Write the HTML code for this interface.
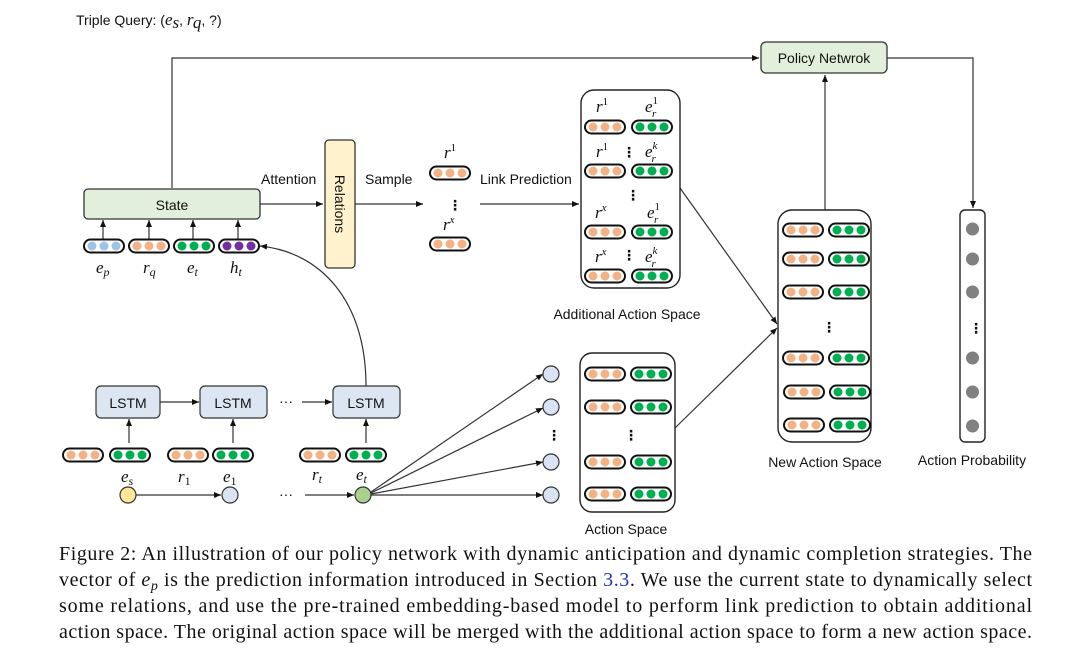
<!DOCTYPE html>
<html><head><meta charset="utf-8"><style>
html,body{margin:0;padding:0;background:#fff;}
svg{display:block;}
.s{font-family:"Liberation Sans","DejaVu Sans",sans-serif;font-size:14px;fill:#111;}
.m{font-family:"Liberation Serif",serif;font-style:italic;font-size:17px;fill:#111;}
.n{font-style:normal;}
.c{font-family:"Liberation Serif",serif;font-size:20px;fill:#111;}
</style></head><body>
<svg width="1080" height="653" viewBox="0 0 1080 653" xmlns="http://www.w3.org/2000/svg">
<defs>
<marker id="a" markerWidth="8" markerHeight="8" refX="7" refY="3" orient="auto" markerUnits="userSpaceOnUse"><path d="M0,0 L7,3 L0,6 z" fill="#111"/></marker>
<g id="vo"><rect x="0" y="-6.5" width="40" height="13" rx="6.5" fill="#fff" stroke="#111" stroke-width="2"/><circle cx="8" cy="0" r="4.5" fill="#f4b183"/><circle cx="20" cy="0" r="4.5" fill="#f4b183"/><circle cx="32" cy="0" r="4.5" fill="#f4b183"/></g>
<g id="vg"><rect x="0" y="-6.5" width="40" height="13" rx="6.5" fill="#fff" stroke="#111" stroke-width="2"/><circle cx="8" cy="0" r="4.5" fill="#00b050"/><circle cx="20" cy="0" r="4.5" fill="#00b050"/><circle cx="32" cy="0" r="4.5" fill="#00b050"/></g>
<g id="vb"><rect x="0" y="-6.5" width="40" height="13" rx="6.5" fill="#fff" stroke="#111" stroke-width="2"/><circle cx="8" cy="0" r="4.5" fill="#9dc3e6"/><circle cx="20" cy="0" r="4.5" fill="#9dc3e6"/><circle cx="32" cy="0" r="4.5" fill="#9dc3e6"/></g>
<g id="vp"><rect x="0" y="-6.5" width="40" height="13" rx="6.5" fill="#fff" stroke="#111" stroke-width="2"/><circle cx="8" cy="0" r="4.5" fill="#7030a0"/><circle cx="20" cy="0" r="4.5" fill="#7030a0"/><circle cx="32" cy="0" r="4.5" fill="#7030a0"/></g>
</defs>

<text x="76" y="25" class="s" font-size="15">Triple Query: (<tspan class="m">e</tspan><tspan class="m" font-size="11" dy="3">s</tspan><tspan dy="-3">, </tspan><tspan class="m">r</tspan><tspan class="m" font-size="11" dy="3">q</tspan><tspan dy="-3">, ?)</tspan></text>

<g stroke="#333" stroke-width="1.2" fill="none">
<polyline points="172,188 172,58 759,58" marker-end="url(#a)"/>
<polyline points="887,58 973,58 973,208" marker-end="url(#a)"/>
<line x1="825" y1="210" x2="825" y2="75" marker-end="url(#a)"/>
<line x1="260" y1="204" x2="323" y2="204" marker-end="url(#a)"/>
<line x1="355" y1="204" x2="423" y2="204" marker-end="url(#a)"/>
<line x1="480" y1="204" x2="579" y2="204" marker-end="url(#a)"/>
<line x1="103" y1="240" x2="103" y2="220" marker-end="url(#a)"/>
<line x1="149" y1="240" x2="149" y2="220" marker-end="url(#a)"/>
<line x1="193" y1="240" x2="193" y2="220" marker-end="url(#a)"/>
<line x1="238" y1="240" x2="238" y2="220" marker-end="url(#a)"/>
<line x1="680" y1="188" x2="777" y2="324" marker-end="url(#a)"/>
<line x1="675" y1="428" x2="777" y2="328" marker-end="url(#a)"/>
<path d="M366,386 C366,300 320,252 260,246" marker-end="url(#a)"/>
<line x1="160" y1="402" x2="199" y2="402" marker-end="url(#a)"/>
<line x1="302" y1="402" x2="332" y2="402" marker-end="url(#a)"/>
<line x1="129" y1="443" x2="129" y2="419" marker-end="url(#a)"/>
<line x1="233" y1="443" x2="233" y2="419" marker-end="url(#a)"/>
<line x1="366" y1="443" x2="366" y2="419" marker-end="url(#a)"/>
<line x1="136" y1="495" x2="221" y2="495" marker-end="url(#a)"/>
<line x1="305" y1="495" x2="354" y2="495" marker-end="url(#a)"/>
<line x1="371" y1="492" x2="543" y2="374" marker-end="url(#a)"/>
<line x1="371" y1="493" x2="543" y2="408" marker-end="url(#a)"/>
<line x1="371" y1="494" x2="543" y2="462" marker-end="url(#a)"/>
<line x1="371" y1="495" x2="543" y2="495" marker-end="url(#a)"/>
</g>

<rect x="761" y="42" width="126" height="31" rx="5" fill="#e2efda" stroke="#333" stroke-width="1.3"/>
<text x="824" y="63" class="s" font-size="15" text-anchor="middle">Policy Netwrok</text>

<rect x="84" y="189" width="176" height="30" rx="4" fill="#e2efda" stroke="#333" stroke-width="1.3"/>
<text x="172" y="210" class="s" font-size="15" text-anchor="middle">State</text>
<use href="#vb" x="84" y="246"/><use href="#vo" x="129" y="246"/><use href="#vg" x="174" y="246"/><use href="#vp" x="219" y="246"/>
<text x="96" y="273" class="m">e<tspan font-size="12" dy="3">p</tspan></text>
<text x="143" y="273" class="m">r<tspan font-size="12" dy="3">q</tspan></text>
<text x="187" y="273" class="m">e<tspan font-size="12" dy="3">t</tspan></text>
<text x="230" y="273" class="m">h<tspan font-size="12" dy="3">t</tspan></text>

<text x="261" y="184" class="s">Attention</text>
<rect x="325" y="140" width="30" height="128" rx="4" fill="#fff2cc" stroke="#333" stroke-width="1.3"/>
<text transform="translate(335,204) rotate(90)" class="s" font-size="15" text-anchor="middle">Relations</text>
<text x="365" y="184" class="s">Sample</text>
<text x="444" y="158" class="m">r<tspan class="n" font-size="11" dy="-7">1</tspan></text>
<use href="#vo" x="430" y="173"/>
<text x="448" y="210" class="s" font-weight="bold">⋮</text>
<text x="443" y="230" class="m">r<tspan font-size="11" dy="-7">x</tspan></text>
<use href="#vo" x="430" y="244"/>
<text x="480" y="184" class="s">Link Prediction</text>

<rect x="581" y="90" width="99" height="198" rx="13" fill="#fff" stroke="#222" stroke-width="1.4"/>
<text x="596" y="112" class="m">r<tspan class="n" font-size="11" dy="-7">1</tspan></text>
<text x="645" y="112" class="m">e<tspan class="n" font-size="11" dy="-8">1</tspan><tspan font-size="11" dx="-6" dy="13">r</tspan></text>
<use href="#vo" x="585" y="127"/><use href="#vg" x="632" y="127"/>
<text x="596" y="157" class="m">r<tspan class="n" font-size="11" dy="-7">1</tspan></text>
<text x="622" y="157" class="s" font-weight="bold">⋮</text>
<text x="645" y="157" class="m">e<tspan font-size="11" dy="-8">k</tspan><tspan font-size="11" dx="-6" dy="13">r</tspan></text>
<use href="#vo" x="585" y="171"/><use href="#vg" x="632" y="171"/>
<text x="626" y="200" class="s" font-weight="bold">⋮</text>
<text x="595" y="218" class="m">r<tspan font-size="11" dy="-7">x</tspan></text>
<text x="647" y="218" class="m">e<tspan class="n" font-size="11" dy="-8">1</tspan><tspan font-size="11" dx="-6" dy="13">r</tspan></text>
<use href="#vo" x="585" y="232"/><use href="#vg" x="632" y="232"/>
<text x="595" y="262" class="m">r<tspan font-size="11" dy="-7">x</tspan></text>
<text x="622" y="260" class="s" font-weight="bold">⋮</text>
<text x="645" y="262" class="m">e<tspan font-size="11" dy="-8">k</tspan><tspan font-size="11" dx="-6" dy="13">r</tspan></text>
<use href="#vo" x="585" y="276"/><use href="#vg" x="632" y="276"/>
<text x="627" y="319" class="s" text-anchor="middle">Additional Action Space</text>

<rect x="580" y="353" width="95" height="159" rx="12" fill="#fff" stroke="#222" stroke-width="1.4"/>
<use href="#vo" x="585" y="374"/><use href="#vg" x="631" y="374"/>
<use href="#vo" x="585" y="407"/><use href="#vg" x="631" y="407"/>
<text x="624" y="440" class="s" font-weight="bold">⋮</text>
<use href="#vo" x="585" y="462"/><use href="#vg" x="631" y="462"/>
<use href="#vo" x="585" y="494"/><use href="#vg" x="631" y="494"/>
<text x="626" y="534" class="s" text-anchor="middle">Action Space</text>

<g fill="#dae3f3" stroke="#333" stroke-width="1.2">
<circle cx="551" cy="374" r="8"/><circle cx="551" cy="407" r="8"/><circle cx="551" cy="462" r="8"/><circle cx="551" cy="495" r="8"/>
</g>
<text x="547" y="440" class="s" font-weight="bold">⋮</text>

<rect x="778" y="210" width="93" height="232" rx="14" fill="#fff" stroke="#222" stroke-width="1.4"/>
<use href="#vo" x="783" y="230"/><use href="#vg" x="829" y="230"/>
<use href="#vo" x="783" y="259"/><use href="#vg" x="829" y="259"/>
<use href="#vo" x="783" y="292"/><use href="#vg" x="829" y="292"/>
<text x="822" y="332" class="s" font-weight="bold">⋮</text>
<use href="#vo" x="783" y="358"/><use href="#vg" x="829" y="358"/>
<use href="#vo" x="784" y="392"/><use href="#vg" x="830" y="392"/>
<use href="#vo" x="784" y="425"/><use href="#vg" x="830" y="425"/>
<text x="825" y="467" class="s" text-anchor="middle">New Action Space</text>

<rect x="960" y="210" width="25" height="232" rx="5" fill="#fff" stroke="#222" stroke-width="1.4"/>
<g fill="#808080"><circle cx="972.5" cy="229" r="6.5"/><circle cx="972.5" cy="259" r="6.5"/><circle cx="972.5" cy="292" r="6.5"/><circle cx="972.5" cy="358" r="6.5"/><circle cx="972.5" cy="392" r="6.5"/><circle cx="972.5" cy="426" r="6.5"/></g>
<text x="969" y="333" class="s" font-weight="bold">⋮</text>
<text x="972" y="465" class="s" text-anchor="middle">Action Probability</text>

<g fill="#dce6f2" stroke="#333" stroke-width="1.2">
<rect x="96" y="386" width="64" height="32" rx="5"/><rect x="200" y="386" width="67" height="32" rx="5"/><rect x="333" y="386" width="67" height="32" rx="5"/>
</g>
<text x="128" y="408" class="s" font-size="15" text-anchor="middle">LSTM</text>
<text x="233" y="408" class="s" font-size="15" text-anchor="middle">LSTM</text>
<text x="366" y="408" class="s" font-size="15" text-anchor="middle">LSTM</text>
<text x="279" y="406" class="s">···</text>

<use href="#vo" x="63" y="455"/><use href="#vg" x="110" y="455"/>
<use href="#vo" x="168" y="455"/><use href="#vg" x="213" y="455"/>
<use href="#vo" x="300" y="455"/><use href="#vg" x="346" y="455"/>
<text x="121" y="482" class="m">e<tspan font-size="12" dy="3">s</tspan></text>
<text x="178" y="482" class="m">r<tspan class="n" font-size="12" dy="3">1</tspan></text>
<text x="223" y="482" class="m">e<tspan class="n" font-size="12" dy="3">1</tspan></text>
<text x="312" y="480" class="m">r<tspan font-size="12" dy="3">t</tspan></text>
<text x="356" y="480" class="m">e<tspan font-size="12" dy="3">t</tspan></text>
<circle cx="128" cy="495" r="8" fill="#ffe699" stroke="#333" stroke-width="1.2"/>
<circle cx="230" cy="495" r="8" fill="#dae3f3" stroke="#333" stroke-width="1.2"/>
<circle cx="363" cy="495" r="8" fill="#a9d18e" stroke="#333" stroke-width="1.2"/>
<text x="279" y="499" class="s">···</text>

<text x="59" y="560" class="c" textLength="973" lengthAdjust="spacing">Figure 2: An illustration of our policy network with dynamic anticipation and dynamic completion strategies. The</text>
<text x="59" y="586" class="c" textLength="973" lengthAdjust="spacing">vector of <tspan font-style="italic">e</tspan><tspan font-style="italic" font-size="14" dy="4">p</tspan><tspan dy="-4"> is the prediction information introduced in Section </tspan><tspan fill="#2030c0">3.3</tspan>. We use the current state to dynamically select</text>
<text x="59" y="612" class="c" textLength="973" lengthAdjust="spacing">some relations, and use the pre-trained embedding-based model to perform link prediction to obtain additional</text>
<text x="59" y="638" class="c" textLength="973" lengthAdjust="spacing">action space. The original action space will be merged with the additional action space to form a new action space.</text>
</svg>
</body></html>
